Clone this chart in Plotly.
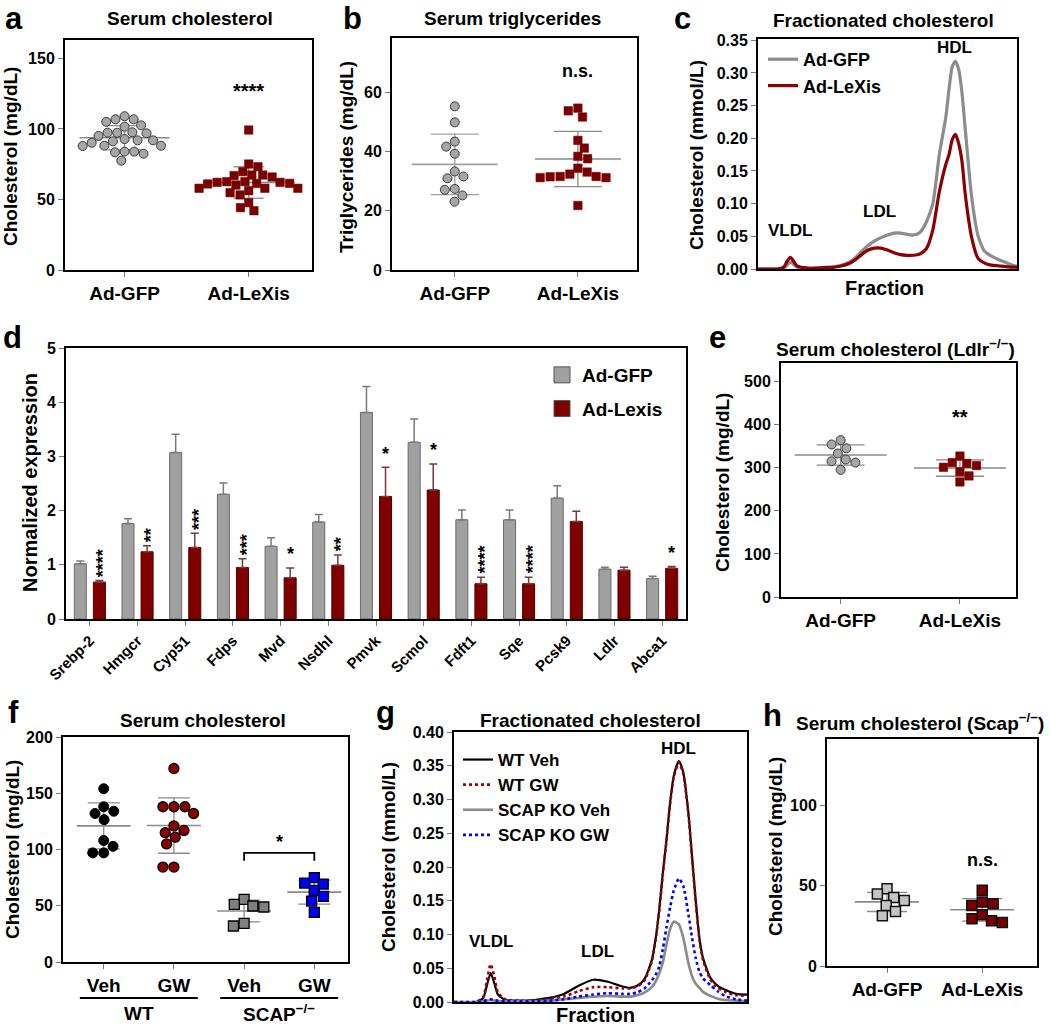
import numpy as np
import plotly.graph_objects as go

W, H = 1050, 1026
FONT = "Liberation Sans, Arial, Helvetica, sans-serif"

# ---------------- DATA ----------------
# (a) serum cholesterol (mg/dL)
a_groups = ["Ad-GFP", "Ad-LeXis"]
a_gfp = [109, 106.8, 105, 106.8, 101.6, 102.5, 97.3, 96.9, 97.3, 97.6, 92.8, 91.9,
         90.2, 91.2, 91.9, 95, 88.1, 87.9, 88.1, 83.9, 83.4, 82.4, 83.9, 77.5]
a_lexis = [99.2, 75.1, 73.2, 67.3, 66.9, 65.9, 67.3, 69.7, 61, 61.4, 62.6, 62.1, 61.4,
           62.1, 62.6, 57.9, 57.9, 57.9, 60.2, 54.8, 53.2, 56.2, 47.7, 42, 44.2]
a_sig = "****"

# (b) serum triglycerides (mg/dL)
b_groups = ["Ad-GFP", "Ad-LeXis"]
b_gfp = [55.3, 49.9, 43.4, 41.7, 39.3, 33.3, 31.6, 31.0, 27.4, 27.1, 25.2, 23.1]
b_lexis = [54.7, 53.8, 51.7, 43.8, 41.2, 38.4, 37.6, 34.4, 32.4, 31.5, 31.2, 31.2,
           31.6, 31.6, 33.1, 21.8]
b_sig = "n.s."

# (c) fractionated cholesterol (mmol/L)
c_fraction = [0, 1, 2, 3, 4, 4.5, 5, 5.5, 6, 7, 8, 9, 10, 11, 12, 13, 14, 15, 16, 17, 18,
              19, 20, 21, 22, 23, 24, 25, 26, 27, 28, 29, 29.5, 30, 30.5, 31, 31.5, 32,
              33, 34, 35, 36, 37, 38, 39, 40]
c_gfp = [0, 0, 0, 0, 0.002, 0.006, 0.011, 0.007, 0.003, 0.001, 0.001, 0.002, 0.002,
         0.003, 0.004, 0.006, 0.010, 0.017, 0.027, 0.036, 0.043, 0.048, 0.052, 0.055,
         0.055, 0.053, 0.052, 0.056, 0.072, 0.100, 0.175, 0.232, 0.275, 0.310, 0.318,
         0.305, 0.270, 0.215, 0.110, 0.050, 0.027, 0.020, 0.015, 0.011, 0.007, 0.004]
c_lexis = [0, 0, 0, 0, 0.003, 0.012, 0.018, 0.012, 0.005, 0.002, 0.001, 0.001, 0.002,
           0.002, 0.003, 0.005, 0.008, 0.014, 0.022, 0.029, 0.032, 0.032, 0.029, 0.025,
           0.022, 0.021, 0.021, 0.023, 0.031, 0.060, 0.118, 0.160, 0.175, 0.198, 0.206,
           0.192, 0.165, 0.115, 0.048, 0.016, 0.009, 0.006, 0.005, 0.004, 0.003, 0.003]
c_peaks = ["VLDL", "LDL", "HDL"]

# (d) normalized expression
genes = ["Srebp-2", "Hmgcr", "Cyp51", "Fdps", "Mvd", "Nsdhl", "Pmvk", "Scmol",
         "Fdft1", "Sqe", "Pcsk9", "Ldlr", "Abca1"]
d_gfp = [1.02, 1.76, 3.07, 2.30, 1.34, 1.79, 3.81, 3.26, 1.83, 1.83, 2.23, 0.92, 0.745]
d_gfp_err = [0.05, 0.09, 0.34, 0.21, 0.16, 0.14, 0.48, 0.43, 0.18, 0.18, 0.23, 0.035, 0.045]
d_lexis = [0.68, 1.24, 1.32, 0.95, 0.76, 0.99, 2.26, 2.38, 0.65, 0.65, 1.80, 0.90, 0.935]
d_lexis_err = [0.03, 0.11, 0.26, 0.16, 0.18, 0.19, 0.54, 0.48, 0.12, 0.12, 0.19, 0.055, 0.035]
d_sig = ["****", "**", "***", "***", "*", "**", "*", "*", "****", "****", "", "", "*"]

# (e) serum cholesterol, Ldlr-/- (mg/dL)
e_groups = ["Ad-GFP", "Ad-LeXis"]
e_gfp = [364, 345, 354, 333, 315, 312, 319, 295]
e_lexis = [327, 312, 305, 310, 301, 291, 281, 267]
e_sig = "**"

# (f) serum cholesterol WT / SCAP-/- (mg/dL)
f_groups = ["Veh", "GW", "Veh", "GW"]
f_wt_veh = [154, 134, 138, 132, 126.5, 108, 102.8, 97, 97]
f_wt_gw = [172, 138, 138, 138, 132, 121, 117, 115, 111, 105, 84.4, 84.4]
f_ko_veh = [55.7, 49.8, 48.9, 51.3, 32, 34.4]
f_ko_gw = [75, 69.3, 70.2, 63.7, 58.4, 54.2, 44.1]
f_genotypes = ["WT", "SCAP<sup>−/−</sup>"]
f_sig = "*"

# (g) fractionated cholesterol (mmol/L)
g_fraction = [0, 3, 4, 4.5, 5, 5.5, 6, 7, 9, 11, 13, 15, 17, 19, 21, 23, 24, 25, 26, 27,
              27.5, 28, 28.5, 29, 29.5, 30, 30.7, 31.3, 32, 32.5, 33, 33.5, 34, 35, 36,
              37, 38.5, 40]
g_wt_veh = [0, 0, 0.006, 0.025, 0.043, 0.028, 0.011, 0.003, 0.002, 0.003, 0.006, 0.012,
            0.024, 0.033, 0.030, 0.023, 0.021, 0.024, 0.034, 0.062, 0.092, 0.135, 0.19,
            0.24, 0.295, 0.335, 0.357, 0.34, 0.28, 0.215, 0.15, 0.095, 0.065, 0.036,
            0.024, 0.018, 0.012, 0.011]
g_wt_gw = [0, 0, 0.008, 0.032, 0.056, 0.038, 0.014, 0.004, 0.002, 0.002, 0.004, 0.008,
           0.016, 0.022, 0.022, 0.020, 0.020, 0.023, 0.032, 0.060, 0.090, 0.133, 0.188,
           0.238, 0.293, 0.333, 0.355, 0.338, 0.278, 0.213, 0.148, 0.093, 0.062, 0.033,
           0.021, 0.015, 0.010, 0.009]
g_ko_veh = [0, 0, 0.001, 0.002, 0.003, 0.002, 0.001, 0.001, 0.001, 0.001, 0.002, 0.004,
            0.006, 0.008, 0.009, 0.008, 0.008, 0.010, 0.014, 0.022, 0.030, 0.042, 0.058,
            0.085, 0.108, 0.119, 0.115, 0.095, 0.058, 0.038, 0.027, 0.021, 0.015, 0.009,
            0.005, 0.003, 0.002, 0.001]
g_ko_gw = [0, 0, 0.001, 0.003, 0.004, 0.003, 0.002, 0.001, 0.001, 0.001, 0.002, 0.004,
           0.008, 0.011, 0.013, 0.012, 0.012, 0.014, 0.020, 0.032, 0.040, 0.052, 0.078,
           0.110, 0.140, 0.165, 0.183, 0.172, 0.130, 0.095, 0.065, 0.045, 0.035, 0.025,
           0.016, 0.009, 0.004, 0.002]
g_names = ["WT Veh", "WT GW", "SCAP KO Veh", "SCAP KO GW"]

# (h) serum cholesterol, Scap-/- (mg/dL)
h_groups = ["Ad-GFP", "Ad-LeXis"]
h_gfp = [48, 42.6, 44.7, 37.6, 40.7, 33.9, 31.2]
h_lexis = [47, 38.7, 37.6, 39.7, 29.3, 31.8, 27, 28.1]
h_sig = "n.s."

# ---------------- STYLE / LAYOUT ----------------
GRAY = "#a6a6a6"
RED = "#7a0000"
EDGE = "#3a3a3a"

# panel boxes in pixels: left, top, right, bottom
BOX = {
    1: (65, 40, 312, 270),
    2: (392, 38, 637, 270),
    3: (758, 39, 1017, 269),
    4: (66, 348, 686, 619),
    5: (781, 363, 1016, 597),
    6: (63, 737, 348, 962),
    7: (454, 732, 747, 1002),
    8: (827, 739, 1037, 966),
}
XR = {1: [-0.48, 1.51], 2: [-0.51, 1.48], 3: [0, 40], 4: [-0.5, 12.5],
      5: [-0.5, 1.47], 6: [-0.58, 3.48], 7: [0, 40], 8: [-0.63, 1.575]}
YR = {1: [0, 163], 2: [0, 78.4], 3: [0, 0.352], 4: [0, 5], 5: [0, 543],
      6: [0, 200], 7: [0, 0.40], 8: [0, 141]}


def px_per_unit(n):
    l, t, r, b = BOX[n]
    return (r - l) / (XR[n][1] - XR[n][0]), (b - t) / (YR[n][1] - YR[n][0])


def ax(n):
    return ("x" if n == 1 else f"x{n}"), ("y" if n == 1 else f"y{n}")


fig = go.Figure()
layout = {}
annotations = []
shapes = []


def make_axes(n, yticks, ytext=None, xticks=None, xtext=None, xfont=19, xangle=0):
    l, t, r, b = BOX[n]
    xk = "xaxis" if n == 1 else f"xaxis{n}"
    yk = "yaxis" if n == 1 else f"yaxis{n}"
    xa, ya = ax(n)
    layout[xk] = dict(domain=[l / W, r / W], range=XR[n], anchor=ya, showline=True,
                      mirror=True, linecolor="black", linewidth=2, showgrid=False,
                      zeroline=False, fixedrange=True, automargin=False,
                      ticks="outside" if xticks is not None else "",
                      ticklen=5, tickcolor="#777", tickwidth=1.2,
                      showticklabels=xticks is not None,
                      tickvals=xticks, ticktext=xtext, tickangle=xangle,
                      tickfont=dict(family=FONT, size=xfont, color="black", weight="bold"))
    layout[yk] = dict(domain=[1 - b / H, 1 - t / H], range=YR[n], anchor=xa, showline=True,
                      mirror=True, linecolor="black", linewidth=2, showgrid=False,
                      zeroline=False, fixedrange=True, automargin=False, ticks="outside",
                      ticklen=5, tickcolor="#777", tickwidth=1.2, tickvals=yticks,
                      ticktext=ytext,
                      tickfont=dict(family=FONT, size=16, color="black", weight="bold"))


def text(x_px, y_px, s, size=19, angle=0, xanchor="center", yanchor="middle"):
    annotations.append(dict(x=x_px / W, y=1 - y_px / H, xref="paper", yref="paper",
                            text=s, showarrow=False, textangle=angle,
                            xanchor=xanchor, yanchor=yanchor,
                            font=dict(family=FONT, size=size, color="black", weight="bold")))


def swarm_x(vals, center, n, d_px):
    """Beeswarm placement: each point goes to the free horizontal slot closest to the
    group centre (positions are derived from the values, not typed)."""
    xppu, yppu = px_per_unit(n)
    ys = np.asarray(vals, float) * yppu
    order = np.argsort(-ys, kind="stable")
    placed = []
    out = np.zeros(len(ys))
    for k, i in enumerate(order):
        y = ys[i]
        near = [(px, py) for px, py in placed if abs(py - y) < d_px]
        cands = [0.0]
        for px, py in near:
            dx = np.sqrt(max(d_px ** 2 - (py - y) ** 2, 0.0))
            cands += [px - dx, px + dx]
        sgn = 1 if k % 2 == 0 else -1
        cands.sort(key=lambda c: (round(abs(c), 6), -sgn * c))
        choice = cands[-1]
        for c in cands:
            if all((c - px) ** 2 + (y - py) ** 2 >= d_px ** 2 - 1e-6 for px, py in near):
                choice = c
                break
        placed.append((choice, y))
        out[i] = center + choice / xppu
    return out


def dot_group(n, vals, center, d_px, symbol, fill, edge, ewidth, mean_hw, sd_hw,
              msize, line_col="#8a8a8a"):
    xa, ya = ax(n)
    xppu, _ = px_per_unit(n)
    m = float(np.mean(vals))
    s = float(np.std(vals, ddof=1))
    mw, sw = mean_hw / xppu, sd_hw / xppu
    fig.add_trace(go.Scatter(x=[center - mw, center + mw], y=[m, m], mode="lines",
                             line=dict(color=line_col, width=1.6), xaxis=xa, yaxis=ya,
                             showlegend=False, hoverinfo="skip"))
    fig.add_trace(go.Scatter(x=[center - sw, center + sw, None, center - sw, center + sw,
                                None, center, center],
                             y=[m + s, m + s, None, m - s, m - s, None, m - s, m + s],
                             mode="lines", line=dict(color=line_col, width=1.3),
                             xaxis=xa, yaxis=ya, showlegend=False, hoverinfo="skip"))
    fig.add_trace(go.Scatter(x=swarm_x(vals, center, n, d_px), y=vals, mode="markers",
                             marker=dict(symbol=symbol, size=msize, color=fill,
                                         line=dict(color=edge, width=ewidth)),
                             xaxis=xa, yaxis=ya, showlegend=False))


# ---- panel a ----
make_axes(1, [0, 50, 100, 150], xticks=[0, 1], xtext=a_groups)
dot_group(1, a_gfp, 0, 9.6, "circle", GRAY, EDGE, 1, 45, 18, 9)
dot_group(1, a_lexis, 1, 9.6, "square", RED, RED, 0.5, 46, 15, 8.5)
annotations.append(dict(x=1, y=127, xref="x", yref="y", text=a_sig, showarrow=False,
                        font=dict(family=FONT, size=20, color="black", weight="bold")))

# ---- panel b ----
make_axes(2, [0, 20, 40, 60], xticks=[0, 1], xtext=b_groups)
dot_group(2, b_gfp, 0, 10, "circle", GRAY, EDGE, 1, 43, 24, 9, line_col="#a0a0a0")
dot_group(2, b_lexis, 1, 10, "square", RED, RED, 0.5, 43, 24, 8.5)
annotations.append(dict(x=1, y=67.4, xref="x2", yref="y2", text=b_sig, showarrow=False,
                        font=dict(family=FONT, size=18, color="black", weight="bold")))

# ---- panel c ----
make_axes(3, [0, 0.05, 0.10, 0.15, 0.20, 0.25, 0.30, 0.35],
          ytext=["0.00", "0.05", "0.10", "0.15", "0.20", "0.25", "0.30", "0.35"])
fig.add_trace(go.Scatter(x=c_fraction, y=c_gfp, mode="lines", name="Ad-GFP",
                         line=dict(color="#8c8c8c", width=3.2, shape="spline", smoothing=0.6),
                         xaxis="x3", yaxis="y3", legend="legend"))
fig.add_trace(go.Scatter(x=c_fraction, y=c_lexis, mode="lines", name="Ad-LeXis",
                         line=dict(color="#8b0000", width=3.2, shape="spline", smoothing=0.6),
                         xaxis="x3", yaxis="y3", legend="legend"))
for lab, xv, yv in zip(c_peaks, [5, 18.8, 30.4], [0.041, 0.071, 0.321]):
    annotations.append(dict(x=xv, y=yv, xref="x3", yref="y3", text=lab, showarrow=False,
                            yanchor="bottom",
                            font=dict(family=FONT, size=17, color="black", weight="bold")))

# ---- panel d ----
idx = list(range(len(genes)))
make_axes(4, [0, 1, 2, 3, 4, 5], xticks=idx, xtext=genes, xfont=15, xangle=-45)
fig.add_trace(go.Bar(x=idx, y=d_gfp, name="Ad-GFP", xaxis="x4", yaxis="y4",
                     marker=dict(color="#a0a0a0", line=dict(color="#6a6a6a", width=1)),
                     error_y=dict(type="data", array=d_gfp_err, symmetric=False,
                                  arrayminus=[0] * len(genes), color="#7a7a7a",
                                  thickness=1.5, width=4),
                     showlegend=False))
fig.add_trace(go.Bar(x=idx, y=d_lexis, name="Ad-Lexis", xaxis="x4", yaxis="y4",
                     marker=dict(color="#800000", line=dict(color="#4a0000", width=1)),
                     error_y=dict(type="data", array=d_lexis_err, symmetric=False,
                                  arrayminus=[0] * len(genes), color="#7a3a3a",
                                  thickness=1.5, width=4),
                     showlegend=False))
for nm, col in [("Ad-GFP", "#a0a0a0"), ("Ad-Lexis", "#800000")]:
    fig.add_trace(go.Scatter(x=[None], y=[None], mode="markers", name=nm,
                             marker=dict(symbol="square", size=16, color=col,
                                         line=dict(color="#555", width=1)),
                             xaxis="x4", yaxis="y4", legend="legend2", legendgroup=nm))
for i, s in enumerate(d_sig):
    if s:
        rot = len(s) > 1
        annotations.append(dict(x=i + 0.2, y=d_lexis[i] + d_lexis_err[i] + 0.03,
                                xref="x4", yref="y4", text=s, showarrow=False,
                                textangle=-90 if rot else 0, yanchor="bottom",
                                xshift=4 if rot else 0,
                                font=dict(family=FONT, size=18, color="black",
                                          weight="bold")))

# ---- panel e ----
make_axes(5, [0, 100, 200, 300, 400, 500], xticks=[0, 1], xtext=e_groups)
dot_group(5, e_gfp, 0, 10, "circle", GRAY, EDGE, 1, 46, 24, 9)
dot_group(5, e_lexis, 1, 10, "square", RED, RED, 0.5, 46, 24, 8.5)
annotations.append(dict(x=1, y=418, xref="x5", yref="y5", text=e_sig, showarrow=False,
                        font=dict(family=FONT, size=20, color="black", weight="bold")))

# ---- panel f ----
make_axes(6, [0, 50, 100, 150, 200], xticks=[0, 1, 2, 3], xtext=f_groups)
dot_group(6, f_wt_veh, 0, 11, "circle", "#000000", "#000000", 1, 27, 16, 10)
dot_group(6, f_wt_gw, 1, 11, "circle", "#8b0000", "#000000", 1.3, 27, 16, 10)
dot_group(6, f_ko_veh, 2, 11, "square", "#808080", "#000000", 1.3, 27, 16, 10)
dot_group(6, f_ko_gw, 3, 11, "square", "#0000ff", "#000000", 1.3, 27, 16, 10)
br_y, br_tip = 97, 90
fig.add_trace(go.Scatter(x=[2, 2, 3, 3], y=[br_tip, br_y, br_y, br_tip], mode="lines",
                         line=dict(color="black", width=1.8), xaxis="x6", yaxis="y6",
                         showlegend=False, hoverinfo="skip"))
annotations.append(dict(x=2.5, y=br_y - 1, xref="x6", yref="y6", text=f_sig,
                        showarrow=False, yanchor="bottom",
                        font=dict(family=FONT, size=18, color="black", weight="bold")))
for gi, lab in enumerate(f_genotypes):
    c = 0.5 + 2 * gi
    shapes.append(dict(type="line", xref="x6", yref="paper", x0=c - 0.84, x1=c + 0.84,
                       y0=1 - 998 / H, y1=1 - 998 / H, line=dict(color="black", width=2)))
    annotations.append(dict(x=c, y=1 - 1013 / H, xref="x6", yref="paper", text=lab,
                            showarrow=False, yanchor="middle",
                            font=dict(family=FONT, size=19, color="black", weight="bold")))

# ---- panel g ----
make_axes(7, [0, 0.05, 0.10, 0.15, 0.20, 0.25, 0.30, 0.35, 0.40],
          ytext=["0.00", "0.05", "0.10", "0.15", "0.20", "0.25", "0.30", "0.35", "0.40"])
g_series = [g_wt_veh, g_wt_gw, g_ko_veh, g_ko_gw]
g_styles = [dict(color="#000000", width=2.2, dash="solid"),
            dict(color="#a00000", width=2.6, dash="dot"),
            dict(color="#8a8a8a", width=2.6, dash="solid"),
            dict(color="#0000ff", width=2.6, dash="dot")]
for nm, ys, st in zip(g_names, g_series, g_styles):
    fig.add_trace(go.Scatter(x=g_fraction, y=ys, mode="lines", name=nm,
                             line=dict(shape="spline", smoothing=0.6, **st),
                             xaxis="x7", yaxis="y7", legend="legend3"))
for lab, xv, yv in zip(c_peaks, [5.1, 19.6, 30.6], [0.072, 0.058, 0.358]):
    annotations.append(dict(x=xv, y=yv, xref="x7", yref="y7", text=lab, showarrow=False,
                            yanchor="bottom",
                            font=dict(family=FONT, size=17, color="black", weight="bold")))

# ---- panel h ----
make_axes(8, [0, 50, 100], xticks=[0, 1], xtext=h_groups)
dot_group(8, h_gfp, 0, 11, "square", "#c4c4c4", "#111111", 1.5, 32, 20, 10)
dot_group(8, h_lexis, 1, 11, "square", "#7a0000", "#111111", 1.5, 32, 20, 10)
annotations.append(dict(x=1, y=58.3, xref="x8", yref="y8", text=h_sig, showarrow=False,
                        yanchor="bottom",
                        font=dict(family=FONT, size=18, color="black", weight="bold")))

# ---- titles, axis titles, panel letters ----
for s, x, y in [("a", 14, 19), ("b", 352, 19), ("c", 682, 19), ("d", 12, 337),
                ("e", 717, 337), ("f", 13, 712), ("g", 385, 712), ("h", 772, 715)]:
    text(x, y, s, size=31)
text(190, 18, "Serum cholesterol")
text(512, 18, "Serum triglycerides")
text(883, 20, "Fractionated cholesterol")
text(895, 348, "Serum cholesterol (Ldlr<sup>−/−</sup>)")
text(203, 720, "Serum cholesterol")
text(590, 720, "Fractionated cholesterol")
text(920, 722, "Serum cholesterol (Scap<sup>−/−</sup>)")
text(10, 157, "Cholesterol (mg/dL)", angle=-90)
text(346, 157, "Triglycerides (mg/dL)", angle=-90)
text(697, 155, "Cholesterol (mmol/L)", angle=-90)
text(884, 288, "Fraction", size=20)
text(30, 483, "Normalized expression", angle=-90, size=20)
text(722, 483, "Cholesterol (mg/dL)", angle=-90)
text(12, 850, "Cholesterol (mg/dL)", angle=-90)
text(388, 857, "Cholesterol (mmol/L)", angle=-90)
text(595, 1015, "Fraction", size=20)
text(775, 847, "Cholesterol (mg/dL)", angle=-90)

leg_font = dict(family=FONT, size=18, color="black", weight="bold")
layout.update(
    template="none",
    width=W, height=H, margin=dict(l=0, r=0, t=0, b=0, pad=0, autoexpand=False),
    paper_bgcolor="white", plot_bgcolor="white",
    barmode="group", bargap=0.2, bargroupgap=0.37,
    legend=dict(x=763 / W, y=1 - 41 / H, xanchor="left", yanchor="top",
                bgcolor="rgba(0,0,0,0)", font=leg_font, tracegroupgap=2),
    legend2=dict(x=542 / W, y=1 - 356 / H, xanchor="left", yanchor="top",
                 bgcolor="rgba(0,0,0,0)", font=dict(family=FONT, size=19, color="black",
                                                    weight="bold"), tracegroupgap=6),
    legend3=dict(x=458 / W, y=1 - 742 / H, xanchor="left", yanchor="top",
                 bgcolor="rgba(0,0,0,0)", font=dict(family=FONT, size=17, color="black",
                                                    weight="bold")),
    annotations=annotations, shapes=shapes, showlegend=True,
)
fig.update_layout(**layout)
# remove the browser's default 8px page margin so the figure sits at the window origin
fig.write_html("out.html", config={"displayModeBar": False},
               post_script="document.body.style.margin='0px';")
